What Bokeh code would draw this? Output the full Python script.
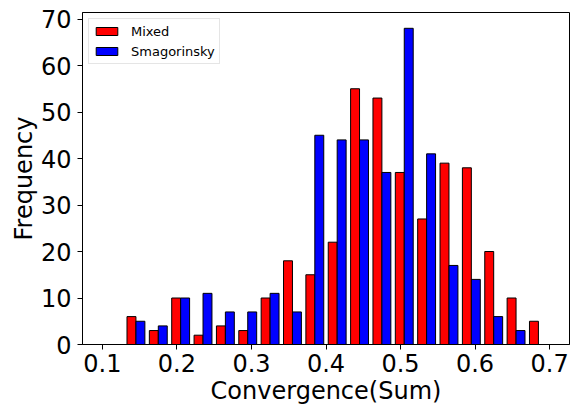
from bokeh.plotting import figure
from bokeh.models import Range1d, FixedTicker, Legend, LegendItem
from bokeh.embed import file_html
from bokeh.resources import INLINE
import numpy as np

# Histogram bins (20 bins from 0.10 to 0.70)
bin_edges = [0.10, 0.13, 0.16, 0.19, 0.22, 0.25, 0.28, 0.31, 0.34, 0.37, 0.40,
             0.43, 0.46, 0.49, 0.52, 0.55, 0.58, 0.61, 0.64, 0.67, 0.70]
mixed = [0, 6, 3, 10, 2, 4, 3, 10, 18, 15, 22, 55, 53, 37, 27, 39, 38, 20, 10, 5]
smagorinsky = [0, 5, 4, 10, 11, 7, 7, 11, 7, 45, 44, 44, 37, 68, 41, 17, 14, 6, 3, 0]
x_ticks = [0.1, 0.2, 0.3, 0.4, 0.5, 0.6, 0.7]
y_ticks = [0, 10, 20, 30, 40, 50, 60, 70]

edges = np.array(bin_edges)
w = np.diff(edges)
left = edges[:-1]
bar_w = 0.4 * w
mixed_x = left + 0.3 * w
smag_x = left + 0.7 * w

lo = edges[0] + 0.1 * w[0]
hi = edges[-1] - 0.1 * w[-1]
pad = 0.05 * (hi - lo)
ymax = 1.05 * max(max(mixed), max(smagorinsky))

FONT = "DejaVu Sans"

p = figure(width=575, height=408, output_backend="svg", toolbar_location=None,
           x_range=Range1d(lo - pad, hi + pad), y_range=Range1d(0, ymax),
           min_border_left=82, min_border_right=6, min_border_top=12,
           min_border_bottom=64, background_fill_color="white",
           border_fill_color="white")

r1 = p.vbar(x=mixed_x, top=mixed, width=bar_w, bottom=0,
            fill_color="red", line_color="black", line_width=1)
r2 = p.vbar(x=smag_x, top=smagorinsky, width=bar_w, bottom=0,
            fill_color="blue", line_color="black", line_width=1)

p.xgrid.grid_line_color = None
p.ygrid.grid_line_color = None
p.outline_line_color = "black"
p.outline_line_width = 1

p.xaxis.ticker = FixedTicker(ticks=x_ticks)
p.yaxis.ticker = FixedTicker(ticks=y_ticks)
p.xaxis.axis_label = "Convergence(Sum)"
p.yaxis.axis_label = "Frequency"

for ax in (p.xaxis, p.yaxis):
    ax.axis_label_text_font = FONT
    ax.axis_label_text_font_size = "24px"
    ax.axis_label_text_font_style = "normal"
    ax.axis_label_text_color = "black"
    ax.major_label_text_font = FONT
    ax.major_label_text_font_size = "24px"
    ax.major_label_text_color = "black"
    ax.axis_line_color = "black"
    ax.major_tick_line_color = "black"
    ax.major_tick_out = 5
    ax.major_tick_in = 0
    ax.minor_tick_line_color = None

p.xaxis.major_label_standoff = 4
p.xaxis.axis_label_standoff = 2
p.yaxis.major_label_standoff = 6
p.yaxis.axis_label_standoff = 0

legend = Legend(items=[LegendItem(label="Mixed", renderers=[r1]),
                       LegendItem(label="Smagorinsky", renderers=[r2])],
                location="top_left")
legend.label_text_font = FONT
legend.label_text_font_size = "13px"
legend.label_text_color = "black"
legend.glyph_width = 27
legend.glyph_height = 10
legend.label_height = 16
legend.label_standoff = 11
legend.spacing = 4
legend.padding = 4
legend.margin = 6
legend.border_line_color = "#cccccc"
legend.border_line_width = 1
legend.background_fill_alpha = 0.8
p.add_layout(legend)

open("out.html", "w").write(file_html(p, INLINE))
